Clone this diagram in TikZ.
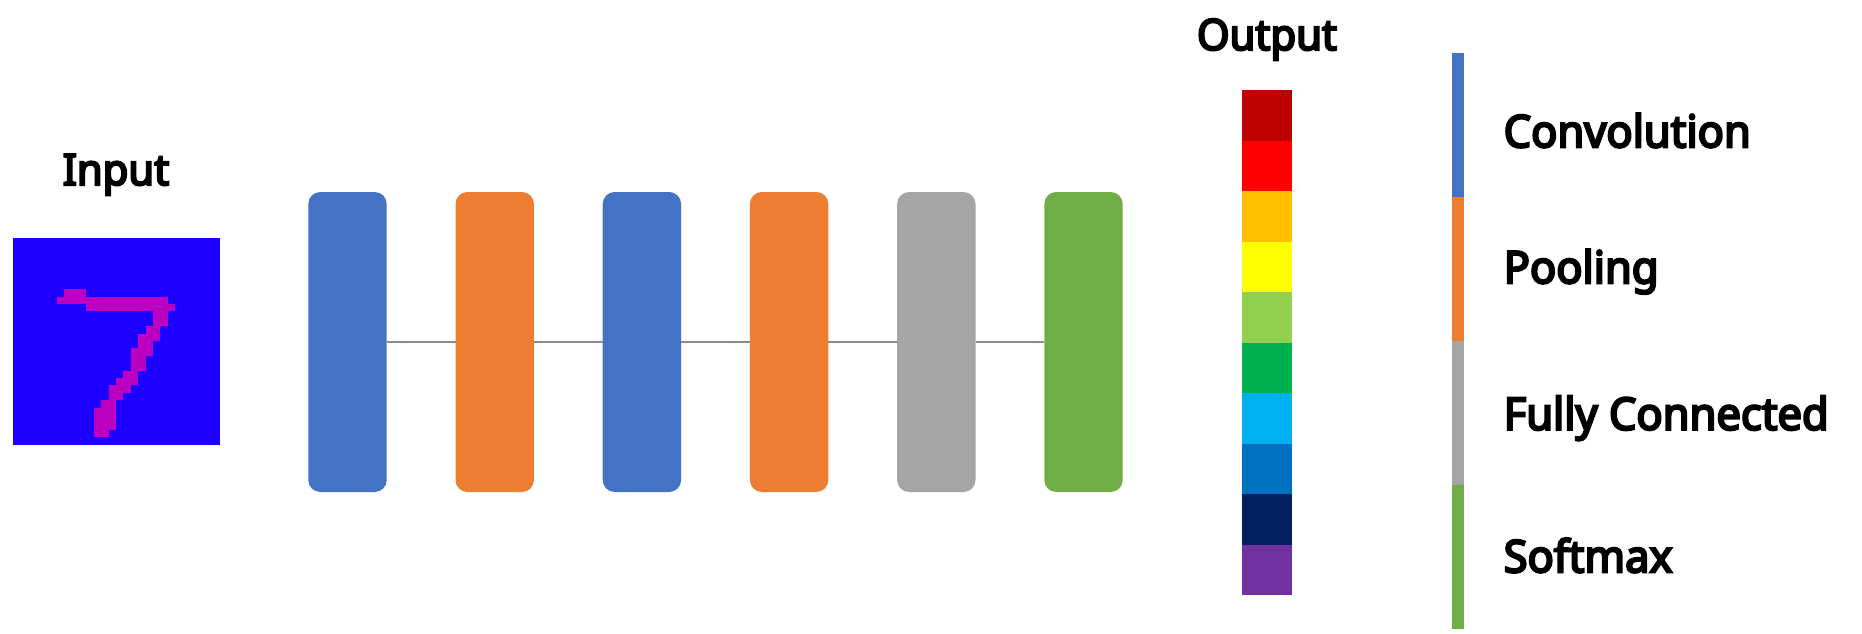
\documentclass[tikz,border=0pt]{standalone}
\usepackage{fontspec}
\setmainfont{Noto Sans}[BoldFont={Noto Sans}, BoldFeatures={FakeBold=5}, FakeStretch=0.97]
\usetikzlibrary{positioning}

\definecolor{convblue}{HTML}{4472C4}
\definecolor{poolorange}{HTML}{ED7D31}
\definecolor{fcgray}{HTML}{A5A5A5}
\definecolor{softgreen}{HTML}{70AD47}
\definecolor{linegray}{HTML}{8C8C8C}
\definecolor{digitblue}{HTML}{1E00FF}
\definecolor{digitpink}{HTML}{BB00C2}
\definecolor{out0}{HTML}{C00000}
\definecolor{out1}{HTML}{FF0000}
\definecolor{out2}{HTML}{FFC000}
\definecolor{out3}{HTML}{FFFF00}
\definecolor{out4}{HTML}{92D050}
\definecolor{out5}{HTML}{00B050}
\definecolor{out6}{HTML}{00B0F0}
\definecolor{out7}{HTML}{0070C0}
\definecolor{out8}{HTML}{002060}
\definecolor{out9}{HTML}{7030A0}

\begin{document}
\begin{tikzpicture}[
    layer/.style={rounded corners=0.24cm, minimum width=1.568cm, minimum height=6cm, inner sep=0, outer sep=0},
    link/.style={draw=linegray, line width=0.75pt},
    outcell/.style={minimum width=1.012cm, minimum height=1.01cm, inner sep=0, outer sep=0},
    keybar/.style={minimum width=0.252cm, minimum height=2.88cm, inner sep=0, outer sep=0},
    title/.style={font=\bfseries\fontsize{24.5}{29}\selectfont, inner sep=0},
    keytext/.style={font=\bfseries\fontsize{25.5}{30}\selectfont, inner sep=0, anchor=base west}
]
    \useasboundingbox (0,0) rectangle (37.24,12.66);

    % Input image (28x28 digit)
    \node[fill=digitblue, minimum size=4.14cm, inner sep=0, outer sep=0] (input) at (2.32,5.84) {};
    \node[title, anchor=base] (inlabel) at ([yshift=1.05cm]input.north) {Input};
    \begin{scope}[shift={(input.north west)}, x=0.14786cm, y=-0.14786cm]
        \foreach \r/\a/\b in {7/7/9, 8/6/20, 9/10/21, 10/19/20, 11/19/20, 12/18/19,
                13/17/19, 14/17/18, 15/16/18, 16/16/17, 17/16/17, 18/15/16, 19/14/16,
                20/13/15, 21/13/14, 22/12/13, 23/11/13, 24/11/13, 25/11/13, 26/11/12}
            \fill[digitpink] (\a,\r) rectangle (\b+1,\r+1);
    \end{scope}

    % Layers
    \node[layer, fill=convblue] (conv1) at (6.95,5.82) {};
    \node[layer, fill=poolorange, right=1.376cm of conv1] (pool1) {};
    \node[layer, fill=convblue, right=1.376cm of pool1] (conv2) {};
    \node[layer, fill=poolorange, right=1.376cm of conv2] (pool2) {};
    \node[layer, fill=fcgray, right=1.376cm of pool2] (fc) {};
    \node[layer, fill=softgreen, right=1.376cm of fc] (soft) {};
    \foreach \a/\b in {conv1/pool1, pool1/conv2, conv2/pool2, pool2/fc, fc/soft}
        \draw[link] (\a) -- (\b);

    % Output vector
    \foreach \i in {0,...,9}
        \node[outcell, fill=out\i] (out\i) at (25.34, 10.355-1.01*\i) {};
    \node[title, anchor=base] (outlabel) at ([yshift=0.8cm]out0.north) {Output};

    % Legend
    \node[keybar, fill=convblue] (key1) at (29.16,10.154) {};
    \node[keybar, fill=poolorange, below=0cm of key1] (key2) {};
    \node[keybar, fill=fcgray, below=0cm of key2] (key3) {};
    \node[keybar, fill=softgreen, below=0cm of key3] (key4) {};
    \node[keytext] (txt1) at ([xshift=0.78cm, yshift=-0.44cm]key1.east) {Convolution};
    \node[keytext] (txt2) at ([xshift=0.78cm, yshift=-0.28cm]key2.east) {Pooling};
    \node[keytext] (txt3) at ([xshift=0.78cm, yshift=-0.33cm]key3.east) {Fully Connected};
    \node[keytext] (txt4) at ([xshift=0.78cm, yshift=-0.30cm]key4.east) {Softmax};
\end{tikzpicture}
\end{document}
